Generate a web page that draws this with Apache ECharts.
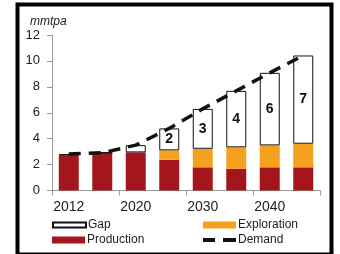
<!DOCTYPE html>
<html><head><meta charset="utf-8">
<script src="https://cdn.jsdelivr.net/npm/echarts@6/dist/echarts.min.js"></script>
<style>html,body{margin:0;padding:0;background:#fff}#c{width:340px;height:254px}</style>
</head><body><div id="c"></div>
<script>
const categories = ['2012','2015','2020','2025','2030','2035','2040','2045'];
const production = [2.68, 2.91, 2.94, 2.37, 1.79, 1.68, 1.79, 1.79];
const exploration = [0, 0, 0, 0.73, 1.43, 1.65, 1.69, 1.82];
const gap = [0.13, 0, 0.56, 1.69, 3.08, 4.36, 5.6, 6.81];
const demand = [2.81, 2.91, 3.5, 4.79, 6.3, 7.69, 9.08, 10.42];
const yTicks = [0, 2, 4, 6, 8, 10, 12];

const chart = echarts.init(document.getElementById('c'), null, {renderer:'canvas'});
const font = 'Liberation Sans, Arial, sans-serif';
const legText = {fontFamily:font, fontSize:12, color:'#222', padding:[0,0,0,-3]};
function leg(name, left, top, h) {
  return {data:[{name:name, icon:'rect'}], left:left, top:top, itemWidth:33, itemHeight:h, padding:0, textStyle:legText};
}
chart.setOption({
  animation: false,
  title: {text:'mmtpa', left: 25, top: 11, textStyle:{fontFamily:font, fontSize:12, fontStyle:'italic', fontWeight:'normal', color:'#222'}},
  graphic: [{type:'rect', left:15, top:2, shape:{width:314, height:250}, style:{fill:'none', stroke:'#000', lineWidth:4}, silent:true}],
  grid: {left:52, right:20, top:35, bottom:63.5},
  legend: [
    leg('Gap', 52, 219, 5),
    leg('Production', 52, 234, 7),
    leg('Exploration', 203, 219, 7),
    {data:[{name:'Demand', icon:'path://M0,0H12V4H0Z M20,0H33V4H20Z'}], left:203, top:234, itemWidth:33, itemHeight:4, padding:0, textStyle:legText}
  ],
  xAxis: {type:'category', data:categories,
    axisLine:{lineStyle:{color:'#999'}}, axisTick:{show:true, length:5, lineStyle:{color:'#999'}},
    axisLabel:{interval:1, fontFamily:font, fontSize:14, color:'#222', margin:10}},
  yAxis: {type:'value', min:yTicks[0], max:yTicks[yTicks.length-1], interval:2,
    axisLine:{show:true, lineStyle:{color:'#999'}}, axisTick:{show:true, length:5, lineStyle:{color:'#999'}},
    splitLine:{show:false},
    axisLabel:{fontFamily:font, fontSize:13, color:'#222', margin:12}},
  series: [
    {name:'Production', type:'bar', stack:'s', data:production, barWidth:20, itemStyle:{color:'#A3161C'}},
    {name:'Exploration', type:'bar', stack:'s', data:exploration, barWidth:20, itemStyle:{color:'#F4A11F'}},
    {name:'Gap', type:'bar', stack:'s', data:gap, barWidth:20, itemStyle:{color:'#fff', borderColor:'#111', borderWidth:1},
     label:{show:true, position:'inside', fontFamily:font, fontSize:14, fontWeight:'bold', color:'#111',
       formatter: p => p.value >= 1.5 ? String(Math.round(p.value)) : ''}},
    {name:'Demand', type:'line', data:demand, symbol:'none', z:5,
     lineStyle:{color:'#111', width:3.5, type:[12,8]}, itemStyle:{color:'#111'}}
  ]
});
</script></body></html>
